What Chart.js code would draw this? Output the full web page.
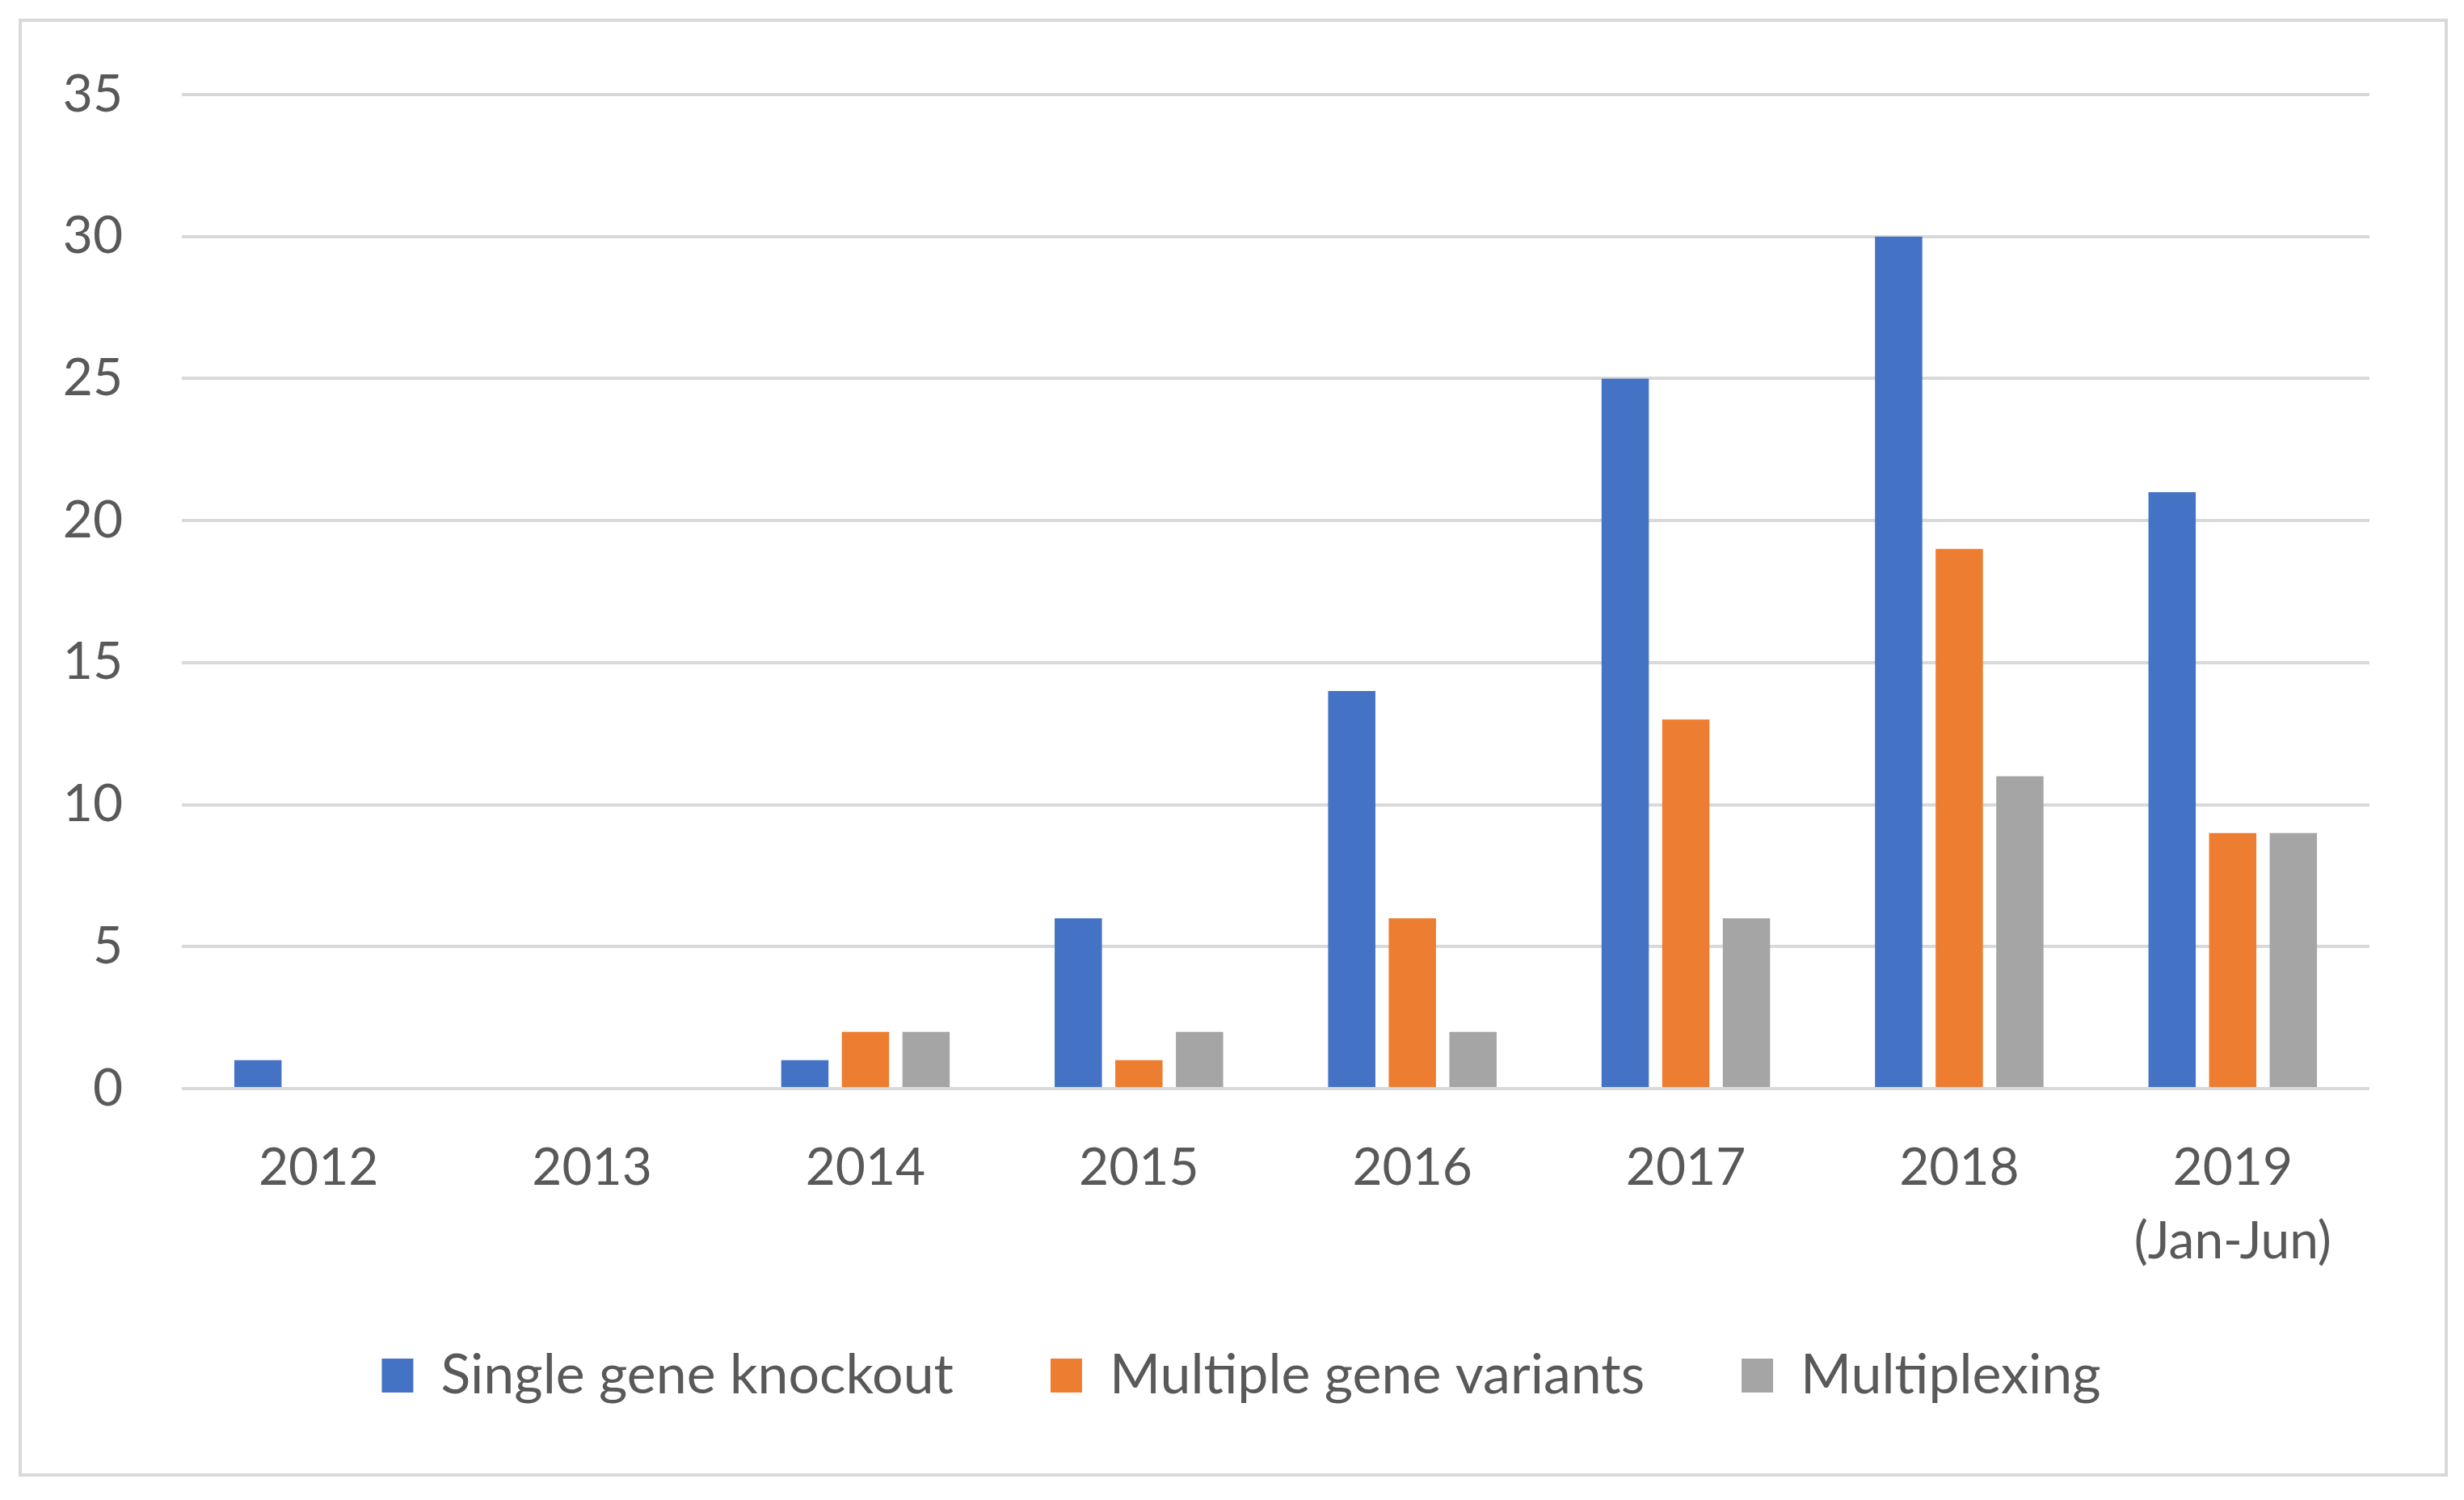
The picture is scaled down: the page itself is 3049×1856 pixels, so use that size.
<!DOCTYPE html>
<html>
<head>
<meta charset="utf-8">
<script src="https://cdn.jsdelivr.net/npm/chart.js@4"></script>
<style>
  html, body { margin: 0; padding: 0; background: #fff; }
  #wrap { position: absolute; left: 0; top: 0; width: 3049px; height: 1856px; }
  #frame { position: absolute; left: 23px; top: 23px; width: 2998px; height: 1796px; border: 4px solid #d9d9d9; pointer-events: none; }
</style>
</head>
<body>
<div id="wrap">
  <canvas id="chart" width="3049" height="1856"></canvas>
  <div id="frame"></div>
</div>
<script>
const years = ["2012", "2013", "2014", "2015", "2016", "2017", "2018", ["2019", "(Jan-Jun)"]];
const singleKnockout = [1, 0, 1, 6, 14, 25, 30, 21];
const multipleVariants = [0, 0, 2, 1, 6, 13, 19, 9];
const multiplexing = [0, 0, 2, 2, 2, 6, 11, 9];
const yTicks = [0, 5, 10, 15, 20, 25, 30, 35];

const textColor = "#595959";
const fontFamily = "Lato, 'Open Sans', sans-serif";

// legend row width counts a trailing gap, so nudge it back to the middle,
// and lift it a little so the two-line x label has room
const legendNudge = {
  id: "legendNudge",
  afterLayout(chart) {
    chart.legend.left += 70;
    chart.legend.right += 70;
    chart.legend.top -= 29;
    chart.legend.bottom -= 29;
  },
};

new Chart(document.getElementById("chart"), {
  type: "bar",
  data: {
    labels: years,
    datasets: [
      { label: "Single gene knockout", data: singleKnockout, backgroundColor: "#4472C4" },
      { label: "Multiple gene variants", data: multipleVariants, backgroundColor: "#ED7D31" },
      { label: "Multiplexing", data: multiplexing, backgroundColor: "#A5A5A5" },
    ],
  },
  options: {
    responsive: false,
    animation: false,
    devicePixelRatio: 1,
    datasets: {
      bar: { barPercentage: 0.78, categoryPercentage: 0.665 },
    },
    layout: { padding: { left: 0, right: 117, top: 117, bottom: 81 } },
    plugins: {
      tooltip: { enabled: false },
      legend: {
        position: "bottom",
        labels: {
          color: textColor,
          font: { family: fontFamily, size: 68 },
          boxWidth: 39,
          boxHeight: 42,
          padding: 120,
        },
      },
    },
    scales: {
      x: {
        grid: { display: false },
        border: { display: false },
        ticks: {
          color: textColor,
          font: { family: fontFamily, size: 64, lineHeight: 1.42 },
          padding: 45,
          maxRotation: 0,
        },
        afterFit: (scale) => { scale.height = 230; },
      },
      y: {
        min: 0,
        max: 35,
        afterBuildTicks: (scale) => { scale.ticks = yTicks.map((v) => ({ value: v })); },
        grid: { color: "#D9D9D9", lineWidth: 4, drawTicks: false },
        border: { display: false },
        ticks: {
          color: textColor,
          font: { family: fontFamily, size: 64 },
          padding: 73,
        },
        afterFit: (scale) => { scale.width = 225; },
      },
    },
  },
  plugins: [legendNudge],
});
</script>
</body>
</html>
